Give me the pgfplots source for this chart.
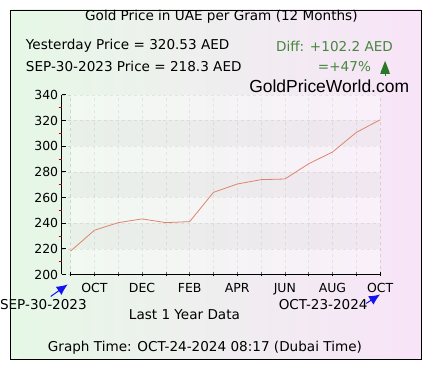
\documentclass[border=0pt]{standalone}
\usepackage{pgfplots}
\pgfplotsset{compat=1.18}
\usepackage{fontspec}
\setmainfont{DejaVu Sans}
\newfontfamily\lib{Liberation Sans}
\usetikzlibrary{arrows.meta}
\definecolor{bgL}{RGB}{230,248,230}
\definecolor{bgR}{RGB}{248,228,248}
\definecolor{diffgreen}{RGB}{70,135,60}
\definecolor{treegreen}{RGB}{40,120,40}
\definecolor{linec}{RGB}{222,132,108}
\definecolor{arrowblue}{RGB}{20,20,240}
\newcommand{\tf}{\fontsize{13.6}{16}\selectfont}
\begin{document}
\begin{tikzpicture}[x=1pt,y=1pt]
\fill[white] (0,0) rectangle (430,370);
\shade[left color=bgL, right color=bgR] (10,10) rectangle (421,360);
\draw[line width=0.9pt] (10,10) rectangle (421,360);
\begin{axis}[
  at={(61pt,95pt)}, anchor=south west, scale only axis,
  width=319pt, height=180pt,
  xmin=-0.377, xmax=13, ymin=200, ymax=340,
  axis y line*=left, axis x line*=bottom,
  x axis line style={draw=none},
  axis line style={line width=0.8pt},
  xtick={0,...,13},
  xticklabels={,OCT,,DEC,,FEB,,APR,,JUN,,AUG,,OCT},
  xtick align=center,
  ytick={200,220,...,340},
  ytick align=inside,
  major tick length=4pt,
  tick style={black, line width=0.7pt},
  extra y ticks={210,230,250,270,290,310,330},
  extra y tick labels={},
  extra y tick style={ymajorgrids=false, tick align=outside, major tick length=3pt, tick style={color=red!75!black, line width=0.6pt}},
  xmajorgrids, ymajorgrids,
  major grid style={gray!35, dashed, line width=0.4pt},
  tick label style={font=\fontsize{12.5}{14}\selectfont},
  /pgf/number format/assume math mode=true,
  xticklabel style={yshift=-3.5pt},
  clip=false,
]
\fill[white, opacity=0.4] (axis cs:0,200) rectangle (axis cs:13,340);
\fill[black, opacity=0.035] (axis cs:0,220) rectangle (axis cs:13,240);
\fill[black, opacity=0.035] (axis cs:0,260) rectangle (axis cs:13,280);
\fill[black, opacity=0.035] (axis cs:0,300) rectangle (axis cs:13,320);
\draw[line width=0.8pt] (axis cs:0,200) -- (axis cs:13,200);
\addplot[color=linec, line width=0.8pt, mark=none] coordinates {
(0,218.3) (1,234.5) (2,240.4) (3,243.3) (4,240.4) (5,241.2) (6,264.0)
(7,270.5) (8,273.9) (9,274.4) (10,286.3) (11,295.4) (12,310.7) (13,320.53)
};
\end{axis}
\node[anchor=base, inner sep=0pt, font=\tf] at (221,349) {Gold Price in UAE per Gram (12 Months)};
\node[anchor=base west, inner sep=0pt, font=\tf] at (25,320) {Yesterday Price = 320.53 AED};
\node[anchor=base west, inner sep=0pt, font=\tf] at (25,298) {SEP-30-2023 Price = 218.3 AED};
\node[anchor=base east, inner sep=0pt, text=diffgreen, font=\tf] at (393,318) {Diff: +102.2 AED};
\node[anchor=base east, inner sep=0pt, text=diffgreen, font=\tf] at (371,298) {=+47\%};
\fill[treegreen] (385,309) -- (389.5,297.5) -- (380.5,297.5) -- cycle;
\fill[treegreen] (385,304) -- (390,296) -- (380,296) -- cycle;
\draw[treegreen, line width=0.6pt] (385,296) -- (385,294);
\node[anchor=base, inner sep=0pt, font=\lib\fontsize{17.5}{20}\selectfont] at (329,277) {GoldPriceWorld.com};
\draw[arrowblue, line width=1pt, -{Latex[length=11pt,width=10pt]}] (50,73) -- (67,85);
\draw[arrowblue, line width=1pt, -{Latex[length=11pt,width=10pt]}] (366,66) -- (380,75);
\node[anchor=base west, inner sep=0pt, font=\tf] at (-1,60) {SEP-30-2023};
\node[anchor=base, inner sep=0pt, font=\tf] at (323,60) {OCT-23-2024};
\node[anchor=base, inner sep=0pt, font=\tf] at (184,50) {Last 1 Year Data};
\node[anchor=base, inner sep=0pt, font=\tf] at (204.5,18) {Graph Time: OCT-24-2024 08:17 (Dubai Time)};
\end{tikzpicture}
\end{document}
